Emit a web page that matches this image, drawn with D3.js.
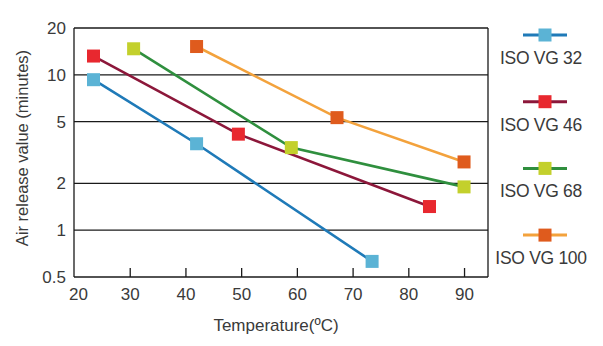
<!DOCTYPE html>
<html>
<head>
<meta charset="utf-8">
<script src="https://cdn.jsdelivr.net/npm/d3@7"></script>
<style>
  body { margin: 0; background: #fff; }
  text { font-family: "Liberation Sans", Arial, sans-serif; fill: #3a3a3a; }
</style>
</head>
<body>
<div id="d3"></div>
<script>
const seriesNames = ["ISO VG 32", "ISO VG 46", "ISO VG 68", "ISO VG 100"];
const temps32 = [23.5, 42, 73.5];
const values32 = [9.3, 3.6, 0.63];
const temps46 = [23.5, 49.5, 83.8];
const values46 = [13.2, 4.15, 1.42];
const temps68 = [30.7, 59, 90];
const values68 = [14.7, 3.4, 1.9];
const temps100 = [42, 67.2, 90];
const values100 = [15.2, 5.3, 2.75];
const lineColors = ["#1f7ab8", "#8c173a", "#2f8f3e", "#f3a23c"];
const markerColors = ["#5bb3d5", "#e8282f", "#c3d02c", "#df5b1d"];
const xTicks = [20, 30, 40, 50, 60, 70, 80, 90];
const yTicks = [0.5, 1, 2, 5, 10, 20];

const chartWidth = 603;
const chartHeight = 346;

const series = seriesNames.map((name, i) => {
  const temps = [temps32, temps46, temps68, temps100][i];
  const values = [values32, values46, values68, values100][i];
  return {
    name: name,
    points: temps.map((t, j) => ({ t: t, v: values[j] })),
  };
});

const svg = d3
  .select("#d3")
  .append("svg")
  .attr("width", chartWidth)
  .attr("height", chartHeight);

const x = d3.scaleLinear().domain([20, 94.3]).range([74, 488]);
const y = d3.scaleLog().domain([0.5, 20]).range([277, 28]);

// horizontal grid lines
svg
  .selectAll("line.grid")
  .data(yTicks)
  .enter()
  .append("line")
  .attr("x1", 74)
  .attr("x2", 488)
  .attr("y1", (d) => y(d))
  .attr("y2", (d) => y(d))
  .style("stroke", "#1a1a1a")
  .style("stroke-width", 1.3);

// frame left + right
svg
  .append("line")
  .attr("x1", 74).attr("x2", 74)
  .attr("y1", 28).attr("y2", 277)
  .style("stroke", "#1a1a1a").style("stroke-width", 1.3);
svg
  .append("line")
  .attr("x1", 488).attr("x2", 488)
  .attr("y1", 28).attr("y2", 277)
  .style("stroke", "#1a1a1a").style("stroke-width", 1.3);

// x axis with inward ticks
const xAxis = svg
  .append("g")
  .attr("transform", "translate(0,277)")
  .call(d3.axisBottom(x).tickValues(xTicks).tickSizeInner(-9).tickSizeOuter(0).tickPadding(11));
xAxis.select(".domain").remove();
xAxis.selectAll(".tick line").style("stroke", "#1a1a1a").style("stroke-width", 1.3);
xAxis.selectAll(".tick").filter((d) => d === 20).select("line").remove();
xAxis.selectAll(".tick text")
  .style("font-size", "17px")
  .style("fill", "#3a3a3a")
  .attr("dx", (d) => (d === 20 ? 4 : 0));

// y axis labels
const yAxis = svg
  .append("g")
  .attr("transform", "translate(74,0)")
  .call(d3.axisLeft(y).tickValues(yTicks).tickFormat((d) => `${d}`).tickSize(0).tickPadding(8));
yAxis.select(".domain").remove();
yAxis.selectAll(".tick text").style("font-size", "17px").style("fill", "#3a3a3a");

// axis titles
svg
  .append("text")
  .attr("x", 276)
  .attr("y", 331)
  .attr("text-anchor", "middle")
  .style("font-size", "17px")
  .text("Temperature(ºC)");

svg
  .append("text")
  .attr("transform", "translate(28,148) rotate(-90)")
  .attr("text-anchor", "middle")
  .style("font-size", "16.5px")
  .text("Air release value (minutes)");

// lines
const line = d3
  .line()
  .x((d) => x(d.t))
  .y((d) => y(d.v));

series.forEach((s, i) => {
  svg
    .append("path")
    .attr("d", line(s.points))
    .style("fill", "none")
    .style("stroke", lineColors[i])
    .style("stroke-width", 2.6);
});

// markers
const size = 13;
series.forEach((s, i) => {
  svg
    .selectAll(null)
    .data(s.points)
    .enter()
    .append("rect")
    .attr("x", (d) => x(d.t) - size / 2)
    .attr("y", (d) => y(d.v) - size / 2)
    .attr("width", size)
    .attr("height", size)
    .attr("fill", markerColors[i]);
});

// legend
const legend = svg
  .selectAll("g.legend")
  .data(series)
  .enter()
  .append("g")
  .attr("transform", (d, i) => `translate(545,${35 + i * 66.7})`);

legend
  .append("line")
  .attr("x1", -22)
  .attr("x2", 22)
  .style("stroke", (d, i) => lineColors[i])
  .style("stroke-width", 3);

legend
  .append("rect")
  .attr("x", -size / 2)
  .attr("y", -size / 2)
  .attr("width", size)
  .attr("height", size)
  .attr("fill", (d, i) => markerColors[i]);

legend
  .append("text")
  .attr("x", -4)
  .attr("y", 29)
  .attr("text-anchor", "middle")
  .style("font-size", "17.5px")
  .style("letter-spacing", "-0.3px")
  .text((d) => d.name);
</script>
</body>
</html>
